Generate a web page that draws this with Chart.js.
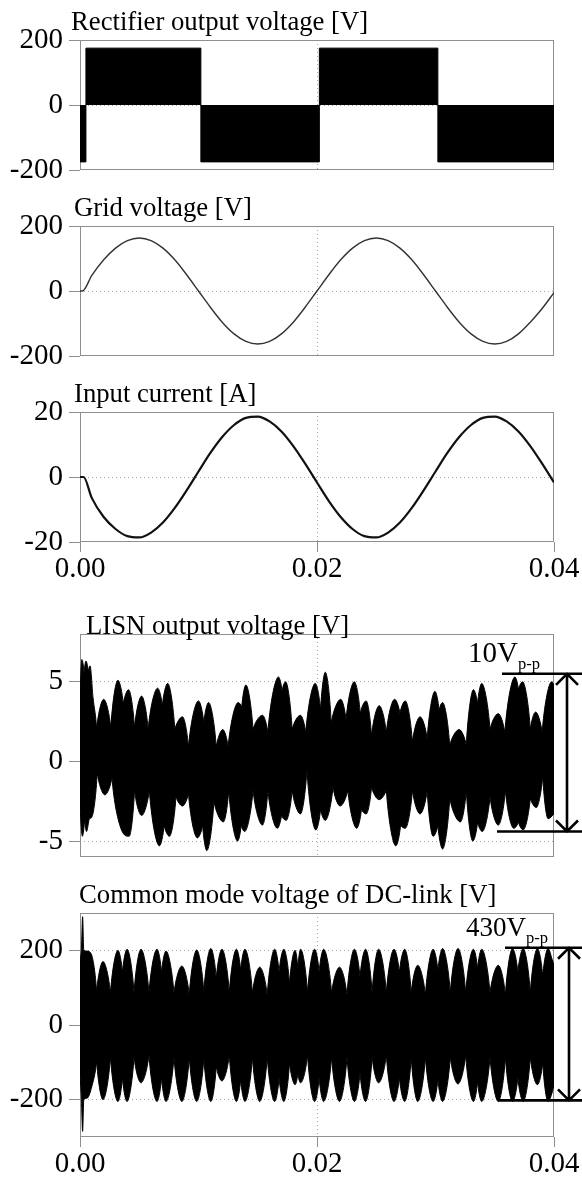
<!DOCTYPE html>
<html><head><meta charset="utf-8">
<script src="https://cdn.jsdelivr.net/npm/chart.js@4.4.1/dist/chart.umd.min.js"></script>
<style>
html,body{margin:0;padding:0;background:#fff;}
#wrap{position:relative;width:582px;height:1180px;overflow:hidden;}
canvas{position:absolute;left:0;}
</style></head><body>
<div id="wrap">
<canvas id="c1" width="582" height="200" style="top:0px"></canvas>
<canvas id="c2" width="582" height="200" style="top:186px"></canvas>
<canvas id="c3" width="582" height="228" style="top:372px"></canvas>
<canvas id="c4" width="582" height="280" style="top:600px"></canvas>
<canvas id="c5" width="582" height="300" style="top:880px"></canvas>
</div>
<script>
// ---------- data (time in ms) ----------
const xTickValues = [0, 20, 40];
const xTickLabels = ['0.00', '0.02', '0.04'];

const titles = ['Rectifier output voltage [V]', 'Grid voltage [V]', 'Input current [A]',
                'LISN output voltage [V]', 'Common mode voltage of DC-link [V]'];

const rectTicks = [-200, 0, 200];
const rectT = [0, 0.5, 10.2, 20.2, 30.2, 40];
const rectV = [-175, 175, -175, 175, -175, -175];

const gridTicks = [-200, 0, 200];
const gridT = [0, 0.2, 1, 2, 3, 4, 5, 6, 7, 8, 9, 10, 11, 12, 13, 14, 15, 16, 17, 18, 19, 20,
               21, 22, 23, 24, 25, 26, 27, 28, 29, 30, 31, 32, 33, 34, 35, 36, 37, 38, 39, 40];
const gridV = [0, 0, 48, 96, 132, 155, 163, 155, 132, 96, 50, 0, -50, -96, -132, -155, -163, -155, -132, -96, -50, 0,
               50, 96, 132, 155, 163, 155, 132, 96, 50, 0, -50, -96, -132, -155, -163, -155, -132, -96, -54, -5];

const curTicks = [-20, 0, 20];
const curT = [0, 0.3, 1, 2, 3, 4, 5, 6, 7, 8, 9, 10, 11, 12, 13, 14, 15, 16, 17, 18, 19, 20,
              21, 22, 23, 24, 25, 26, 27, 28, 29, 30, 31, 32, 33, 34, 35, 36, 37, 38, 39, 40];
const curV = [0, 0, -6.5, -12.3, -16.0, -18.2, -18.6, -17.1, -14.0, -9.5, -4.1, 1.7, 7.4, 12.3, 16.0, 18.2, 18.6, 17.1, 14.0, 9.5, 4.1, -1.7,
              -7.4, -12.3, -16.0, -18.2, -18.6, -17.1, -14.0, -9.5, -4.1, 1.7, 7.4, 12.3, 16.0, 18.2, 18.6, 17.1, 14.0, 9.5, 4.1, -1.7];

const lisnTicks = [-5, 0, 5];
const lisnUpper = [[0,4.2],[0.15,6.4],[0.35,5.5],[0.5,6.3],[0.7,5.6],[0.85,6.0],[1.1,4.0],[1.4,2.0],[2.0,3.9],[2.6,2.1],
  [3.2,5.1],[3.65,3.6],[4.1,4.5],[4.6,2.1],[5.2,4.1],[5.75,2.0],[6.55,4.6],[6.95,3.5],[7.4,4.9],[8.0,2.0],
  [8.65,2.8],[9.15,0.9],[10.0,3.8],[10.45,2.4],[10.85,3.7],[11.5,0.9],[12.05,2.0],[12.5,0.9],[13.35,3.7],[13.65,3.4],
  [14.0,4.8],[14.6,2.0],[15.4,2.9],[15.85,1.8],[16.75,5.3],[17.05,4.4],[17.35,5.0],[17.9,2.0],[18.6,2.9],[19.05,1.8],
  [19.85,4.9],[20.3,3.2],[20.7,5.6],[21.2,2.4],[22.0,3.9],[22.45,2.6],[23.15,5.0],[23.65,3.0],[24.15,3.8],[24.6,1.6],
  [25.25,3.5],[25.85,1.8],[26.55,3.9],[27.0,3.0],[27.45,3.8],[28.05,1.2],[28.7,2.8],[29.3,1.4],[29.95,4.4],[30.3,3.2],
  [30.6,3.7],[31.2,1.0],[32.0,2.0],[32.6,1.0],[33.2,4.5],[33.55,3.6],[33.9,4.9],[34.6,2.0],[35.3,3.0],[35.85,1.8],
  [36.7,5.3],[37.0,4.5],[37.35,5.0],[38.0,2.0],[38.45,3.1],[39.0,1.8],[39.8,5.0],[40,4.8]];
const lisnLower = [[0,-3.0],[0.2,-4.7],[0.4,-3.5],[0.55,-4.4],[0.8,-3.6],[1.0,-3.5],[1.45,-0.7],[2.1,-2.1],[2.7,-1.0],[3.5,-4.3],
  [4.15,-4.7],[4.6,-1.8],[5.2,-3.4],[5.85,-1.8],[6.7,-5.3],[7.1,-4.0],[7.55,-4.7],[8.1,-2.2],[8.65,-2.8],[9.15,-2.0],
  [9.9,-4.8],[10.35,-4.0],[10.7,-5.6],[11.3,-2.5],[12.1,-3.8],[12.55,-1.8],[13.3,-5.0],[13.6,-4.0],[13.9,-4.4],[14.6,-1.8],
  [15.4,-4.0],[15.85,-1.8],[16.65,-4.2],[17.0,-3.4],[17.4,-3.7],[17.9,-1.8],[18.6,-3.3],[19.15,-0.5],[19.9,-4.3],[20.3,-3.0],
  [20.7,-3.7],[21.35,-1.6],[21.95,-2.8],[22.6,-1.8],[23.35,-4.2],[23.75,-3.0],[24.15,-3.3],[24.6,-1.6],[25.25,-2.4],[25.85,-1.8],
  [26.65,-5.3],[27.05,-4.0],[27.45,-4.2],[28.05,-1.8],[28.7,-3.3],[29.3,-1.8],[29.8,-4.7],[30.2,-4.0],[30.6,-5.5],[31.2,-2.3],
  [32.1,-3.8],[32.6,-1.8],[33.15,-5.0],[33.55,-3.8],[33.95,-4.4],[34.6,-2.2],[35.3,-4.0],[35.9,-1.8],[36.6,-4.2],[37.0,-3.8],
  [37.4,-4.3],[38.0,-2.3],[38.5,-2.9],[39.05,-0.9],[39.5,-3.6],[40,-3.3]];
const lisnPP = {label: '10V', sub: 'p-p', top: 5.5, bottom: -4.4};

const cmTicks = [-200, 0, 200];
const cmUpper = [[0,172],[0.12,205],[0.22,290],[0.32,200],[0.6,198],[0.95,190],[1.4,88],[1.94,170],[2.57,85],[3.2,200],
  [3.58,140],[3.97,203],[4.56,85],[5.15,203],[5.82,85],[6.5,203],[6.88,140],[7.26,198],[7.93,85],[8.6,158],
  [9.22,80],[9.85,201],[10.45,88],[11.04,205],[11.5,125],[11.98,203],[12.6,85],[13.2,203],[13.56,145],[13.92,203],
  [14.55,85],[15.17,155],[15.8,80],[16.43,203],[16.8,140],[17.2,203],[17.68,110],[18.15,200],[18.38,150],[18.62,203],
  [19.2,85],[19.8,203],[20.18,140],[20.56,203],[21.23,85],[21.9,155],[22.53,80],[23.16,203],[23.63,128],[24.1,203],
  [24.65,85],[25.2,203],[25.85,85],[26.5,203],[26.95,140],[27.4,203],[27.95,85],[28.5,160],[29.15,80],[29.8,203],
  [30.2,145],[30.6,205],[31.25,85],[31.9,205],[32.55,85],[33.2,203],[33.55,150],[33.9,203],[34.6,85],[35.3,160],
  [35.9,80],[36.5,205],[36.95,140],[37.4,205],[38.0,85],[38.6,205],[39.05,130],[39.5,205],[39.85,175],[40,160]];
const cmLower = [[0,-130],[0.12,-200],[0.22,-285],[0.32,-200],[0.6,-196],[0.95,-170],[1.4,-95],[1.94,-200],[2.57,-85],[3.2,-205],
  [3.58,-140],[3.97,-205],[4.56,-85],[5.15,-155],[5.82,-80],[6.5,-205],[6.88,-140],[7.26,-205],[7.93,-85],[8.6,-205],
  [9.22,-85],[9.85,-205],[10.45,-88],[11.04,-205],[11.5,-110],[11.98,-150],[12.6,-80],[13.2,-205],[13.56,-145],[13.92,-205],
  [14.55,-85],[15.17,-205],[15.8,-85],[16.43,-205],[16.8,-140],[17.2,-205],[17.68,-100],[18.15,-160],[18.38,-130],[18.62,-155],
  [19.2,-80],[19.8,-205],[20.18,-140],[20.56,-205],[21.23,-85],[21.9,-205],[22.53,-85],[23.16,-205],[23.63,-128],[24.1,-205],
  [24.65,-85],[25.2,-155],[25.85,-80],[26.5,-205],[26.95,-140],[27.4,-205],[27.95,-85],[28.5,-205],[29.15,-85],[29.8,-205],
  [30.2,-145],[30.6,-205],[31.25,-85],[31.9,-158],[32.55,-80],[33.2,-205],[33.55,-150],[33.9,-205],[34.6,-85],[35.3,-205],
  [35.9,-85],[36.5,-205],[36.95,-140],[37.4,-205],[38.0,-85],[38.6,-160],[39.05,-100],[39.5,-205],[39.85,-180],[40,-160]];
const cmPP = {label: '430V', sub: 'p-p', top: 207, bottom: -202};

// ---------- helpers ----------
const FONT = '"Liberation Serif", "Times New Roman", serif';
const zip = (t, v) => t.map((x, i) => ({x: x, y: v[i]}));
const pairs = p => p.map(d => ({x: d[0], y: d[1]}));

// frame, titles, p-p annotations, and sharp (V-shaped) notches between envelope lobes
const deco = {
  id: 'deco',
  beforeDatasetsDraw(chart, args, o) {
    const {ctx, chartArea: a} = chart;
    chart.data.datasets.forEach((ds, i) => {
      if (!ds.notch) return;
      const meta = chart.getDatasetMeta(i);
      meta.dataset.updateControlPoints(a, 'x');
      const pts = meta.data;
      for (let k = 1; k < pts.length - 1; k++) {
        const p = pts[k], pa = pts[k - 1], pb = pts[k + 1];
        const isNotch = ds.notch === 'up' ? (p.y > pa.y && p.y > pb.y) : (p.y < pa.y && p.y < pb.y);
        if (isNotch) {
          p.cp1x = p.x + 0.2 * (pa.x - p.x); p.cp1y = p.y + 0.5 * (pa.y - p.y);
          p.cp2x = p.x + 0.2 * (pb.x - p.x); p.cp2y = p.y + 0.5 * (pb.y - p.y);
        }
      }
    });
    ctx.save();
    ctx.strokeStyle = '#8f8f8f';
    ctx.lineWidth = 1;
    ctx.strokeRect(a.left + 0.5, a.top + 0.5, a.right - a.left - 1, a.bottom - a.top - 1);
    ctx.restore();
  },
  afterDraw(chart, args, o) {
    const {ctx, chartArea: a} = chart;
    ctx.save();
    ctx.fillStyle = '#000';
    ctx.textAlign = 'left';
    ctx.textBaseline = 'alphabetic';
    ctx.font = '26.7px ' + FONT;
    ctx.fillText(o.title, o.titleX, a.top - o.titleDy);
    if (o.pp) {
      const ys = chart.scales.y;
      const yt = ys.getPixelForValue(o.pp.data.top);
      const yb = ys.getPixelForValue(o.pp.data.bottom);
      ctx.strokeStyle = '#000';
      ctx.lineWidth = 2.6;
      ctx.beginPath();
      ctx.moveTo(o.pp.x1, yt); ctx.lineTo(582, yt);
      ctx.moveTo(o.pp.x2, yb); ctx.lineTo(582, yb);
      ctx.moveTo(o.pp.xv, yt); ctx.lineTo(o.pp.xv, yb);
      ctx.moveTo(o.pp.xv - 11, yt + 11); ctx.lineTo(o.pp.xv, yt); ctx.lineTo(o.pp.xv + 11, yt + 11);
      ctx.moveTo(o.pp.xv - 11, yb - 11); ctx.lineTo(o.pp.xv, yb); ctx.lineTo(o.pp.xv + 11, yb - 11);
      ctx.stroke();
      ctx.font = '16.5px ' + FONT;
      const sw = ctx.measureText(o.pp.data.sub).width;
      ctx.fillText(o.pp.data.sub, o.pp.right - sw, yt - 5);
      ctx.font = o.pp.size + 'px ' + FONT;
      const mw = ctx.measureText(o.pp.data.label).width;
      ctx.fillText(o.pp.data.label, o.pp.right - sw - mw, yt - 12);
    }
    ctx.restore();
  }
};

function makeChart(id, cfg) {
  const yTicks = cfg.yTicks;
  return new Chart(document.getElementById(id), {
    type: 'line',
    data: {datasets: cfg.datasets},
    options: {
      responsive: false,
      animation: false,
      events: [],
      layout: {padding: {top: cfg.padTop, bottom: cfg.padBottom, left: 0, right: 28}},
      plugins: {legend: {display: false}, tooltip: {enabled: false}, deco: cfg.deco},
      elements: {point: {radius: 0}},
      scales: {
        x: {
          type: 'linear', min: 0, max: 40,
          afterBuildTicks: s => { s.ticks = xTickValues.map(v => ({value: v})); },
          afterFit: s => { s.height = cfg.xLabels ? 40 : 0; s.paddingLeft = 0; s.paddingRight = 0; },
          ticks: {display: cfg.xLabels, font: {family: FONT, size: 29}, color: '#000', padding: 0,
                  maxRotation: 0, autoSkip: false, callback: (v, i) => xTickLabels[i]},
          grid: {drawTicks: cfg.xLabels, tickLength: 10, tickColor: '#8f8f8f', lineWidth: 1,
                 color: c => (c.tick && c.tick.value > 0 && c.tick.value < 40) ? '#a8a8a8' : 'rgba(0,0,0,0)'},
          border: {display: false, dash: [1, 3]}
        },
        y: {
          type: 'linear', min: cfg.yMin, max: cfg.yMax,
          afterBuildTicks: s => { s.ticks = yTicks.map(v => ({value: v})); },
          afterFit: s => { s.width = 80; s.paddingTop = 0; s.paddingBottom = 0; },
          ticks: {font: {family: FONT, size: 29}, color: '#000', padding: 6, autoSkip: false,
                  callback: v => String(v)},
          grid: {tickLength: 11, tickColor: '#8f8f8f', lineWidth: 1,
                 color: c => (c.tick && c.tick.value > cfg.yMin && c.tick.value < cfg.yMax) ? '#a8a8a8' : 'rgba(0,0,0,0)'},
          border: {display: false, dash: [1, 3]}
        }
      }
    },
    plugins: [deco]
  });
}

const upperEnv = (pts) => ({data: pts, fill: '+1', notch: 'up', backgroundColor: '#000', borderColor: '#000',
                            borderWidth: 1, cubicInterpolationMode: 'monotone', pointRadius: 0});
const lowerEnv = (pts) => ({data: pts, fill: false, notch: 'down', borderColor: '#000',
                            borderWidth: 1, cubicInterpolationMode: 'monotone', pointRadius: 0});

makeChart('c1', {
  yMin: -200, yMax: 200, yTicks: rectTicks, padTop: 40, padBottom: 30, xLabels: false,
  deco: {title: titles[0], titleX: 71, titleDy: 10},
  datasets: [{data: zip(rectT, rectV), stepped: 'before', fill: 'origin', backgroundColor: '#000',
              borderColor: '#000', borderWidth: 1, pointRadius: 0}]
});
makeChart('c2', {
  yMin: -200, yMax: 200, yTicks: gridTicks, padTop: 40, padBottom: 30, xLabels: false,
  deco: {title: titles[1], titleX: 74, titleDy: 10},
  datasets: [{data: zip(gridT, gridV), borderColor: '#333', borderWidth: 1.4, fill: false,
              cubicInterpolationMode: 'monotone', pointRadius: 0}]
});
makeChart('c3', {
  yMin: -20, yMax: 20, yTicks: curTicks, padTop: 40, padBottom: 18, xLabels: true,
  deco: {title: titles[2], titleX: 74, titleDy: 10},
  datasets: [{data: zip(curT, curV), borderColor: '#111', borderWidth: 2.2, fill: false,
              cubicInterpolationMode: 'monotone', pointRadius: 0}]
});
makeChart('c4', {
  yMin: -6, yMax: 8, yTicks: lisnTicks, padTop: 34, padBottom: 23, xLabels: false,
  deco: {title: titles[3], titleX: 86, titleDy: 0,
         pp: {data: lisnPP, x1: 502, x2: 497, xv: 567, right: 540, size: 29}},
  datasets: [upperEnv(pairs(lisnUpper)), lowerEnv(pairs(lisnLower))]
});
makeChart('c5', {
  yMin: -300, yMax: 300, yTicks: cmTicks, padTop: 33, padBottom: 3, xLabels: true,
  deco: {title: titles[4], titleX: 79, titleDy: 10,
         pp: {data: cmPP, x1: 505, x2: 498, xv: 569, right: 548, size: 27}},
  datasets: [upperEnv(pairs(cmUpper)), lowerEnv(pairs(cmLower))]
});
</script>
</body></html>
